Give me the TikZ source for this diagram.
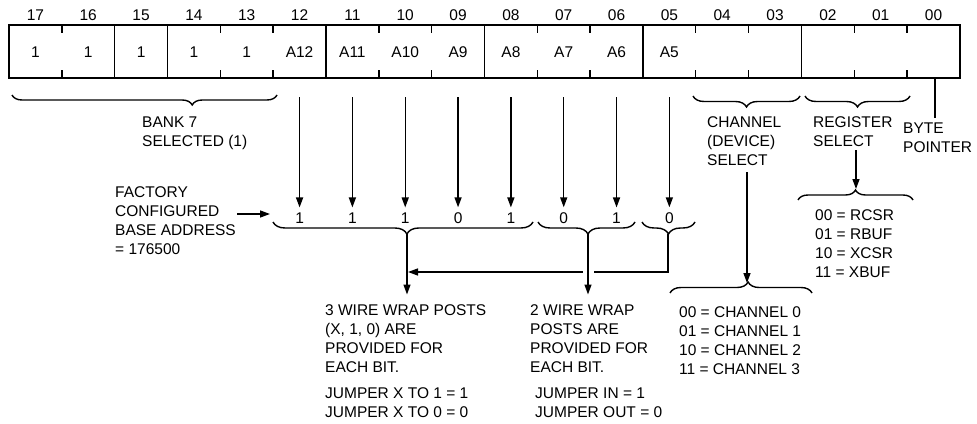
\documentclass[tikz,border=0pt]{standalone}
\usepackage{fontspec}
\setmainfont{Liberation Sans}
\usetikzlibrary{arrows.meta,decorations.pathreplacing}
\begin{document}
\begin{tikzpicture}[x=1pt,y=-1pt,
  txt/.style={font=\fontsize{15.5}{19}\selectfont, inner sep=0pt},
  lbl/.style={txt, align=left, anchor=north west},
  ln/.style={line width=1.4pt},
  arr/.style={ln, -{Triangle[length=10pt,width=7pt]}},
  brcdown/.style={ln, decorate, decoration={brace, mirror, amplitude=#1}},
  brcup/.style={ln, decorate, decoration={brace, amplitude=#1}},
]
\useasboundingbox (0,0) rectangle (977,423);
\def\L{9}
\def\W{52.83}
% register box
\draw[line width=1.8pt] (9,25) rectangle (960,78);
\foreach \i in {2,3,6,9,12,15} \draw[ln] ({\L+\W*\i},25) -- ({\L+\W*\i},78);
\foreach \i in {1,4,5,7,8,10,11,13,14,16,17} {
  \draw[ln] ({\L+\W*\i},25) -- ({\L+\W*\i},33);
  \draw[ln] ({\L+\W*\i},70) -- ({\L+\W*\i},78);
}
\foreach [count=\i from 0] \b/\v in {17/1,16/1,15/1,14/1,13/1,12/A12,11/A11,10/A10,09/A9,08/A8,07/A7,06/A6,05/A5,04/,03/,02/,01/,00/} {
  \node[txt] (n\b) at ({\L+\W*(\i+0.5)}, 15) {\b};
  \node[txt] (c\b) at ({\L+\W*(\i+0.5)}, 52) {\v};
}
% value row and arrows
\foreach [count=\i from 5] \b/\v in {12/1,11/1,10/1,09/0,08/1,07/0,06/1,05/0} {
  \node[txt] (v\b) at ({\L+\W*(\i+0.5)}, 218) {\v};
  \coordinate (s\b) at ({\L+\W*(\i+0.5)}, 97);
  \draw[arr] (s\b) -- ([yshift=5pt]v\b.north);
}
% bank brace
\draw[brcdown=10pt, decoration={aspect=0.68}] (12,95) -- (277,95);
\node[lbl] (bank) at (142,116.5) {BANK 7\\SELECTED (1)};
% factory
\node[lbl] (fact) at (115,186.5) {FACTORY\\CONFIGURED\\BASE ADDRESS\\= 176500};
\coordinate (fa) at (237,214);
\coordinate (fb) at (270,214);
\draw[arr] (fa) -- (fb);
% braces below values
\draw[brcdown=12pt, decoration={aspect=0.515}] (273,222) -- (533,222);
\draw[brcdown=12pt, decoration={aspect=0.515}] (538,222) -- (635,222);
\draw[brcdown=12pt, decoration={aspect=0.5}] (642,222) -- (695,222);
\coordinate (t1) at (407,234);
\coordinate (t2) at (588,234);
\coordinate (t3) at (668,234);
\coordinate (h3) at (668,272);
\coordinate (h1) at (408,272);
\draw[ln, -{Triangle[length=10pt,width=7pt]}] (t3) -- (h3) -- (h1);
\node[lbl] (w3) at (325,304.5) {3 WIRE WRAP POSTS\\(X, 1, 0) ARE\\PROVIDED FOR\\EACH BIT.};
\node[lbl] (w2) at (530,304.5) {2 WIRE WRAP\\POSTS ARE\\PROVIDED FOR\\EACH BIT.};
\node[lbl] (j3) at (325,387.5) {JUMPER X TO 1 = 1\\JUMPER X TO 0 = 0};
\node[lbl] (j2) at (535,387.5) {JUMPER IN = 1\\JUMPER OUT = 0};
\draw[arr] (t1) -- ([yshift=10pt]w3.north -| t1);
\coordinate (g1) at (588,264);
\coordinate (g2) at (588,280);
\draw[white, line width=11pt] (g1) -- (g2);
\draw[arr] (t2) -- ([yshift=10pt]w2.north -| t2);
% right side braces
\draw[brcdown=11pt, decoration={aspect=0.5}] (693,96) -- (800,96);
\draw[brcdown=11pt, decoration={aspect=0.5}] (805,96) -- (910,96);
\node[lbl] (chan) at (707,116.5) {CHANNEL\\(DEVICE)\\SELECT};
\node[lbl] (reg) at (813,116.5) {REGISTER\\SELECT};
\node[lbl] (byte) at (903,122.5) {BYTE\\POINTER};
\coordinate (b0) at (935,78);
\coordinate (b1) at (935,118);
\draw[ln] (b0) -- (b1);
% register list
\coordinate (ra) at (856,150);
\coordinate (rb) at (856,189);
\draw[arr] (ra) -- (rb);
\draw[brcup=10pt, decoration={aspect=0.5}] (798,200) -- (913,200);
\node[lbl] (rlist) at (815,209.5) {00 = RCSR\\01 = RBUF\\10 = XCSR\\11 = XBUF};
% channel list
\coordinate (ca) at (747,172);
\coordinate (cb) at (747,283);
\draw[arr] (ca) -- (cb);
\draw[brcup=11pt, decoration={aspect=0.55}] (670,293) -- (812,293);
\node[lbl] (clist) at (679,306.5) {00 = CHANNEL 0\\01 = CHANNEL 1\\10 = CHANNEL 2\\11 = CHANNEL 3};
\end{tikzpicture}
\end{document}
